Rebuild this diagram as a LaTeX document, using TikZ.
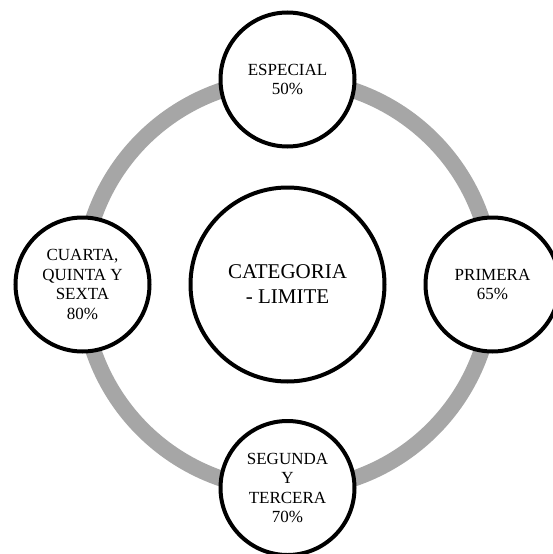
\documentclass[tikz,border=0pt]{standalone}
\usepackage{fontspec}
\setmainfont{Liberation Serif}
\definecolor{ringgray}{HTML}{A6A6A6}
\begin{document}
\begin{tikzpicture}[x=1pt,y=-1pt,
  smallc/.style={circle, draw=black, line width=4pt, fill=white, minimum size=134pt, inner sep=0pt, align=center, font=\fontsize{17}{19.5}\selectfont},
  bigc/.style={circle, draw=black, line width=4pt, fill=white, minimum size=194pt, inner sep=0pt, align=center, font=\fontsize{21}{25}\selectfont}]
\useasboundingbox[fill=white] (0,0) rectangle (553,554);
\coordinate (o) at (287.5,284.5);
\draw[ringgray, line width=16pt] (o) circle (205pt);
\node[bigc] (center) at (o) {CATEGORIA\\- LIMITE};
\node[smallc] (esp) at (287.5,79.5) {ESPECIAL\\50\%};
\node[smallc] (pri) at (492.5,284.5) {PRIMERA\\65\%};
\node[smallc] (seg) at (287.5,488) {SEGUNDA\\Y\\TERCERA\\70\%};
\node[smallc] (cua) at (82.5,284.5) {CUARTA,\\QUINTA Y\\SEXTA\\80\%};
\end{tikzpicture}
\end{document}
